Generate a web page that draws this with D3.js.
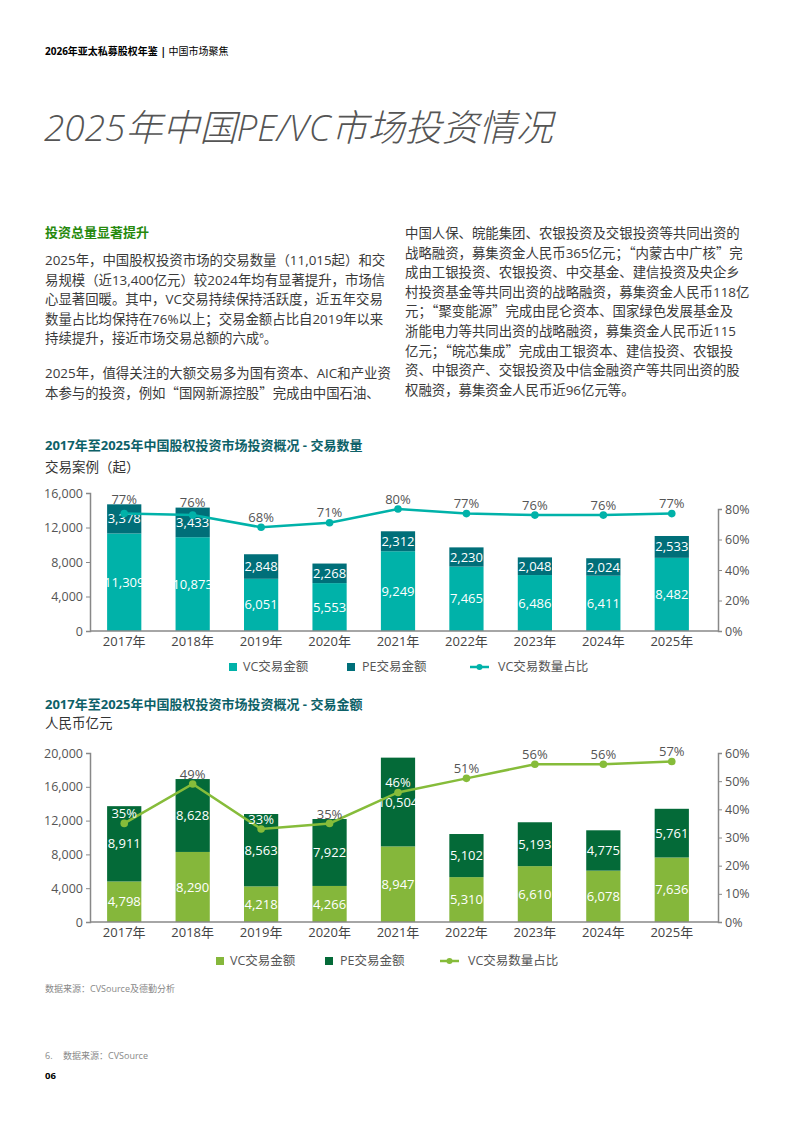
<!DOCTYPE html>
<html>
<head>
<meta charset="utf-8">
<script src="https://cdn.jsdelivr.net/npm/d3@7"></script>
<style>
  body { margin: 0; background: #fff; }
  svg { display: block; font-family: "Open Sans", "Noto Sans CJK SC", sans-serif; }
</style>
</head>
<body>
<div id="page"></div>
<script>
// chart data
var years = ["2017年", "2018年", "2019年", "2020年", "2021年", "2022年", "2023年", "2024年", "2025年"];

var countVC = [11309, 10873, 6051, 5553, 9249, 7465, 6486, 6411, 8482];
var countPE = [3378, 3433, 2848, 2268, 2312, 2230, 2048, 2024, 2533];
var countShare = [0.77, 0.76, 0.68, 0.71, 0.80, 0.77, 0.76, 0.76, 0.77];
var countTicks = [0, 4000, 8000, 12000, 16000];
var countShareTicks = [0, 0.2, 0.4, 0.6, 0.8];

var amountVC = [4798, 8290, 4218, 4266, 8947, 5310, 6610, 6078, 7636];
var amountPE = [8911, 8628, 8563, 7922, 10504, 5102, 5193, 4775, 5761];
var amountShare = [0.35, 0.49, 0.33, 0.35, 0.46, 0.51, 0.56, 0.56, 0.57];
var amountTicks = [0, 4000, 8000, 12000, 16000, 20000];
var amountShareTicks = [0, 0.1, 0.2, 0.3, 0.4, 0.5, 0.6];

var legendNames = ["VC交易金额", "PE交易金额", "VC交易数量占比"];

// page text
var leftLines = [
  "2025年，中国股权投资市场的交易数量（11,015起）和交",
  "易规模（近13,400亿元）较2024年均有显著提升，市场信",
  "心显著回暖。其中，VC交易持续保持活跃度，近五年交易",
  "数量占比均保持在76%以上；交易金额占比自2019年以来",
  "持续提升，接近市场交易总额的六成"
];
var leftLines2 = [
  "2025年，值得关注的大额交易多为国有资本、AIC和产业资",
  "本参与的投资，例如“国网新源控股”完成由中国石油、"
];
var rightLines = [
  "中国人保、皖能集团、农银投资及交银投资等共同出资的",
  "战略融资，募集资金人民币365亿元；“内蒙古中广核”完",
  "成由工银投资、农银投资、中交基金、建信投资及央企乡",
  "村投资基金等共同出资的战略融资，募集资金人民币118亿",
  "元；“聚变能源”完成由昆仑资本、国家绿色发展基金及",
  "浙能电力等共同出资的战略融资，募集资金人民币近115",
  "亿元；“皖芯集成”完成由工银资本、建信投资、农银投",
  "资、中银资产、交银投资及中信金融资产等共同出资的股",
  "权融资，募集资金人民币近96亿元等。"
];

var svg = d3.select("#page").append("svg")
  .attr("width", 794)
  .attr("height", 1123);

// header
var header = svg.append("text")
  .attr("x", 45).attr("y", 55)
  .attr("font-size", 10)
  .attr("fill", "#000");
header.append("tspan").attr("font-weight", "bold").text("2026年亚太私募股权年鉴 | ");
header.append("tspan").text("中国市场聚焦");

// page title
svg.append("text")
  .attr("x", 44).attr("y", 141)
  .attr("font-size", 37)
  .attr("font-style", "italic")
  .attr("font-weight", 300)
  .attr("fill", "#555")
  .text("2025年中国PE/VC市场投资情况");

// section heading + body
svg.append("text")
  .attr("x", 45).attr("y", 237)
  .attr("font-size", 13)
  .attr("font-weight", "bold")
  .attr("fill", "#26890d")
  .text("投资总量显著提升");

// curly quotes need the CJK font to get full-width glyphs
function bodyLines(lines, x, y0) {
  var t = [];
  lines.forEach(function(line, i) {
    var txt = svg.append("text")
      .attr("x", x).attr("y", y0 + i * 19.6)
      .attr("font-size", 13.4)
      .attr("fill", "#3a3a3a");
    line.split(/([“”])/).forEach(function(part) {
      if (!part) return;
      var sp = txt.append("tspan").text(part);
      if (part === "“" || part === "”") sp.attr("font-family", "Noto Sans CJK SC");
    });
    t.push(txt);
  });
  return t;
}
var left1 = bodyLines(leftLines, 45, 265);
left1[left1.length - 1].append("tspan").text("6")
  .attr("font-size", 8).attr("dy", -5);
left1[left1.length - 1].append("tspan").text("。").attr("dy", 5);
bodyLines(leftLines2, 45, 378);
bodyLines(rightLines, 405, 238);

// stacked bar + line combo
function drawChart(cfg) {
  var x = d3.scaleBand()
    .domain(years)
    .range([90, 706])
    .paddingInner(0.5)
    .paddingOuter(0.25);

  var y = d3.scaleLinear()
    .domain([0, cfg.yMax])
    .range([cfg.y0, cfg.yTop]);

  var y2 = d3.scaleLinear()
    .domain([0, cfg.shareMax])
    .range([cfg.y0, cfg.y2Top]);

  // titles
  svg.append("text")
    .attr("x", 45).attr("y", cfg.titleY)
    .attr("font-size", 13)
    .attr("font-weight", "bold")
    .attr("fill", "#0d6168")
    .text(cfg.title);
  svg.append("text")
    .attr("x", 45).attr("y", cfg.titleY + cfg.subGap)
    .attr("font-size", 13.5)
    .attr("fill", "#333")
    .text(cfg.subtitle);

  var g = svg.append("g");

  // bars
  years.forEach(function(yr, i) {
    var vc = cfg.vc[i], pe = cfg.pe[i];
    g.append("rect")
      .attr("x", x(yr)).attr("width", x.bandwidth())
      .attr("y", y(vc)).attr("height", y(0) - y(vc))
      .attr("fill", cfg.vcColor);
    g.append("rect")
      .attr("x", x(yr)).attr("width", x.bandwidth())
      .attr("y", y(vc + pe)).attr("height", y(vc) - y(vc + pe))
      .attr("fill", cfg.peColor);
    g.append("text")
      .attr("x", x(yr) + x.bandwidth() / 2)
      .attr("y", (y(0) + y(vc)) / 2)
      .attr("dy", "0.35em")
      .attr("text-anchor", "middle")
      .attr("font-size", 13)
      .attr("fill", "#fff")
      .text(d3.format(",")(vc));
    g.append("text")
      .attr("x", x(yr) + x.bandwidth() / 2)
      .attr("y", (y(vc) + y(vc + pe)) / 2)
      .attr("dy", "0.35em")
      .attr("text-anchor", "middle")
      .attr("font-size", 13)
      .attr("fill", "#fff")
      .text(d3.format(",")(pe));
  });

  // left axis
  var leftAxis = d3.axisLeft(y).tickValues(cfg.ticks).tickFormat(d3.format(",")).tickSize(4).tickPadding(3);
  var la = svg.append("g").attr("transform", "translate(90,0)").call(leftAxis);
  la.select(".domain").attr("stroke", "#888").attr("stroke-width", 1.5);
  la.selectAll(".tick line").attr("stroke", "#888");
  la.selectAll(".tick text").attr("font-size", 12.5).attr("fill", "#555").attr("font-family", "Open Sans");

  // right axis
  var rightAxis = d3.axisRight(y2).tickValues(cfg.shareTicks).tickFormat(d3.format(".0%")).tickSize(4).tickPadding(3);
  var ra = svg.append("g").attr("transform", "translate(718,0)").call(rightAxis);
  ra.select(".domain").attr("stroke", "#888").attr("stroke-width", 1.5);
  ra.selectAll(".tick line").attr("stroke", "#888");
  ra.selectAll(".tick text").attr("font-size", 12.5).attr("fill", "#555").attr("font-family", "Open Sans");

  // bottom axis
  var bottomAxis = d3.axisBottom(x).tickSize(0).tickPadding(6);
  var ba = svg.append("g").attr("transform", "translate(0," + cfg.y0 + ")").call(bottomAxis);
  ba.select(".domain").attr("d", "M90,0H718").attr("stroke", "#888").attr("stroke-width", 1.5);
  ba.selectAll(".tick text").attr("font-size", 13).attr("fill", "#444")
    .attr("font-family", "\"Open Sans\", \"Noto Sans CJK SC\"");

  // share line
  var line = d3.line()
    .x(function(d, i) { return x(years[i]) + x.bandwidth() / 2; })
    .y(function(d) { return y2(d); });
  svg.append("path")
    .datum(cfg.share)
    .attr("d", line)
    .attr("fill", "none")
    .attr("stroke", cfg.lineColor)
    .attr("stroke-width", 2.5);

  cfg.share.forEach(function(s, i) {
    var cx = x(years[i]) + x.bandwidth() / 2;
    var cy = y2(s);
    svg.append("circle")
      .attr("cx", cx).attr("cy", cy).attr("r", 3.8)
      .attr("fill", cfg.lineColor);
    var barTop = y(cfg.vc[i] + cfg.pe[i]);
    var ly = cy - 10;
    if (ly > barTop - 7 && ly < barTop + 4) ly = barTop - 5;
    svg.append("text")
      .attr("x", cx).attr("y", ly)
      .attr("dy", "0.35em")
      .attr("text-anchor", "middle")
      .attr("font-size", 13)
      .attr("fill", ly > barTop + 2 ? "#fff" : "#555")
      .text(d3.format(".0%")(s));
  });

  // legend
  var lg = svg.append("g").attr("font-size", 12.5).attr("fill", "#555");
  var lx = cfg.legendX;
  lg.append("rect").attr("x", lx[0]).attr("y", cfg.legendY - 4).attr("width", 8).attr("height", 8).attr("fill", cfg.vcColor);
  lg.append("text").attr("x", lx[0] + 14).attr("y", cfg.legendY).attr("dy", "0.35em").text(legendNames[0]);
  lg.append("rect").attr("x", lx[1]).attr("y", cfg.legendY - 4).attr("width", 8).attr("height", 8).attr("fill", cfg.peColor);
  lg.append("text").attr("x", lx[1] + 15).attr("y", cfg.legendY).attr("dy", "0.35em").text(legendNames[1]);
  lg.append("line").attr("x1", lx[2]).attr("x2", lx[2] + 19).attr("y1", cfg.legendY).attr("y2", cfg.legendY)
    .attr("stroke", cfg.lineColor).attr("stroke-width", 2.5);
  lg.append("circle").attr("cx", lx[2] + 9.5).attr("cy", cfg.legendY).attr("r", 3).attr("fill", cfg.lineColor);
  lg.append("text").attr("x", lx[2] + 28).attr("y", cfg.legendY).attr("dy", "0.35em").text(legendNames[2]);
}

drawChart({
  title: "2017年至2025年中国股权投资市场投资概况 - 交易数量",
  subtitle: "交易案例（起）",
  titleY: 450, subGap: 22,
  vc: countVC, pe: countPE, share: countShare,
  yMax: 16000, ticks: countTicks, y0: 631, yTop: 493,
  shareMax: 0.8, shareTicks: countShareTicks, y2Top: 509,
  vcColor: "#00b2a9", peColor: "#006f79", lineColor: "#00b2a9",
  legendX: [229, 347, 470], legendY: 667
});

drawChart({
  title: "2017年至2025年中国股权投资市场投资概况 - 交易金额",
  subtitle: "人民币亿元",
  titleY: 709, subGap: 19,
  vc: amountVC, pe: amountPE, share: amountShare,
  yMax: 20000, ticks: amountTicks, y0: 922, yTop: 753,
  shareMax: 0.6, shareTicks: amountShareTicks, y2Top: 753,
  vcColor: "#85b73b", peColor: "#046a38", lineColor: "#86bc3a",
  legendX: [216, 325, 440], legendY: 961
});

// source + footnotes
svg.append("text")
  .attr("x", 45).attr("y", 992)
  .attr("font-size", 9).attr("fill", "#888")
  .text("数据来源：CVSource及德勤分析");
var fn = svg.append("text")
  .attr("x", 45).attr("y", 1059)
  .attr("font-size", 9).attr("fill", "#888");
fn.append("tspan").text("6.");
fn.append("tspan").attr("x", 63).text("数据来源：CVSource");
svg.append("text")
  .attr("x", 45).attr("y", 1079)
  .attr("font-size", 9.5).attr("font-weight", "bold").attr("fill", "#000")
  .text("06");
</script>
</body>
</html>
